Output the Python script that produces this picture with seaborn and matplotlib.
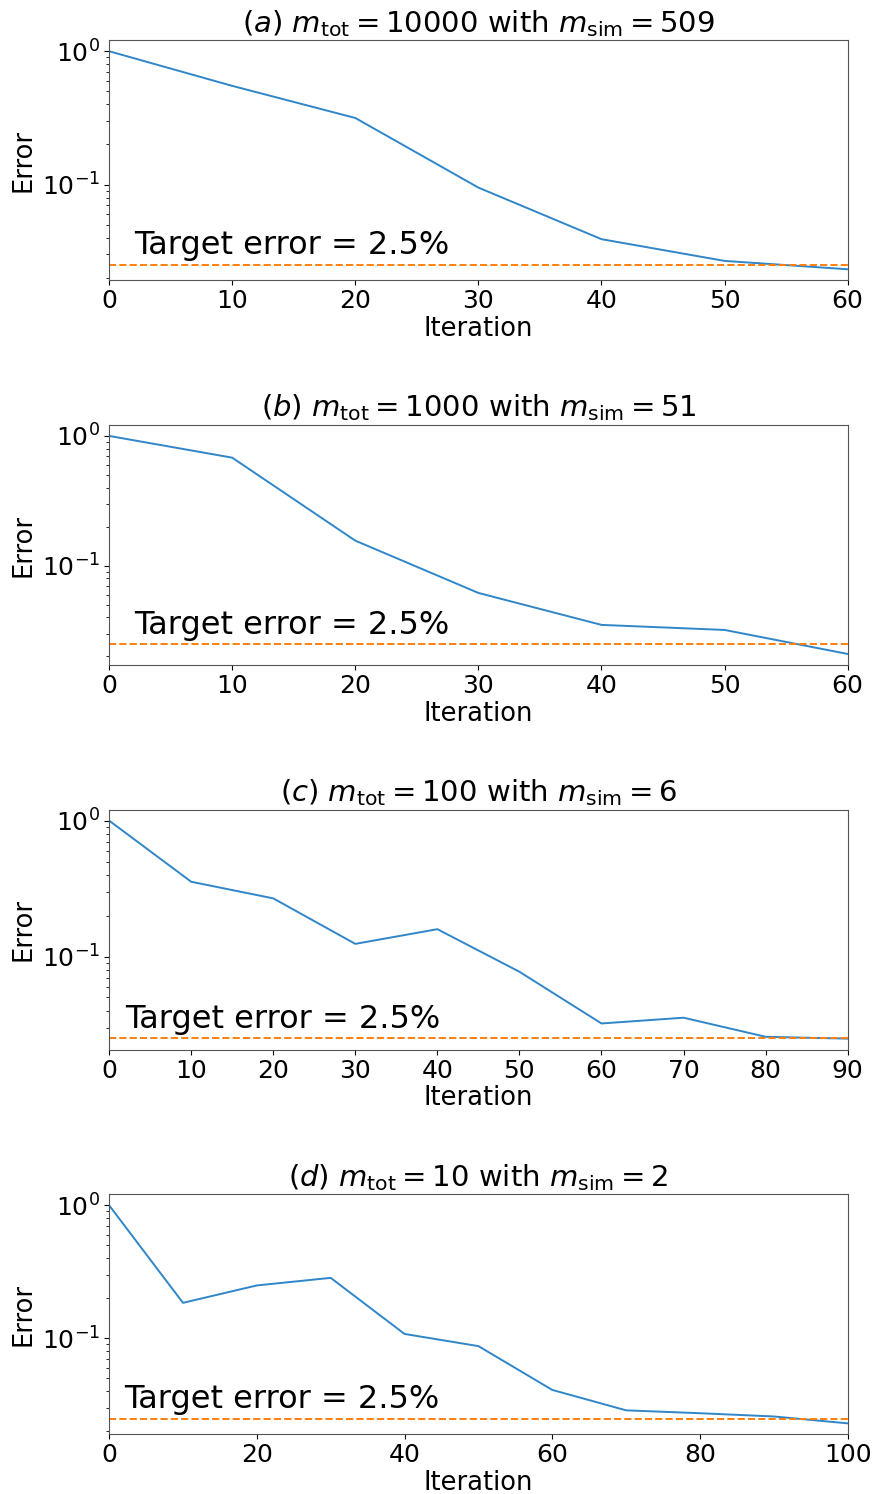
import numpy as np
import pandas as pd
import seaborn as sns
import matplotlib
matplotlib.use("Agg")
import matplotlib.pyplot as plt

# ---- data ----
iter_a = [0, 10, 20, 30, 40, 50, 60]
err_a = [1.0, 0.55, 0.316, 0.095, 0.039, 0.0268, 0.0232]

iter_b = [0, 10, 20, 30, 40, 50, 60]
err_b = [1.0, 0.68, 0.156, 0.0617, 0.035, 0.032, 0.0209]

iter_c = [0, 10, 20, 30, 40, 50, 60, 70, 80, 90]
err_c = [1.0, 0.355, 0.268, 0.124, 0.159, 0.0773, 0.0322, 0.0355, 0.0257, 0.0249]

iter_d = [0, 10, 20, 30, 40, 50, 60, 70, 80, 90, 100]
err_d = [1.0, 0.185, 0.25, 0.285, 0.108, 0.0875, 0.041, 0.0288, 0.0274, 0.0259, 0.023]

titles = [
    r"$(a)$ $m_{\mathrm{tot}} = 10000$ with $m_{\mathrm{sim}} = 509$",
    r"$(b)$ $m_{\mathrm{tot}} = 1000$ with $m_{\mathrm{sim}} = 51$",
    r"$(c)$ $m_{\mathrm{tot}} = 100$ with $m_{\mathrm{sim}} = 6$",
    r"$(d)$ $m_{\mathrm{tot}} = 10$ with $m_{\mathrm{sim}} = 2$",
]
target_error = 0.025
target_label = "Target error = 2.5%"

series = [(iter_a, err_a), (iter_b, err_b), (iter_c, err_c), (iter_d, err_d)]

sns.set_style("white")
plt.rcParams["font.family"] = ["DejaVu Sans"]
plt.rcParams["mathtext.fontset"] = "dejavusans"
plt.rcParams["text.color"] = "black"
plt.rcParams["axes.labelcolor"] = "black"
plt.rcParams["xtick.color"] = "black"
plt.rcParams["ytick.color"] = "black"

fig, axes = plt.subplots(4, 1, figsize=(8.73, 14.94), dpi=100)
fig.subplots_adjust(left=0.125, right=0.971, top=0.973, bottom=0.04, hspace=0.604)

for ax, (xs, ys), title in zip(axes, series, titles):
    df = pd.DataFrame({"Iteration": xs, "Error": ys})
    sns.lineplot(data=df, x="Iteration", y="Error", ax=ax, color="#2f86c8", linewidth=1.4)
    ax.set_yscale("log")
    ax.axhline(target_error, color="#ff7f0e", linestyle="--", linewidth=1.4)
    ax.text(2, 0.03, target_label, fontsize=23, color="black")
    ax.set_xlim(min(xs), max(xs))
    ax.set_title(title, fontsize=21, color="black")
    ax.set_xlabel("Iteration", fontsize=18.5, labelpad=2)
    ax.set_ylabel("Error", fontsize=18.5, labelpad=4)
    ax.tick_params(axis="both", which="major", labelsize=18, direction="out", length=3.5, width=0.8,
                   left=True, bottom=True, pad=3)
    ax.tick_params(axis="y", which="minor", direction="out", length=2, width=0.6, left=True)
    for sp in ax.spines.values():
        sp.set_color("#555555")
        sp.set_linewidth(0.8)

fig.savefig("out.png", dpi=100, facecolor="white")
